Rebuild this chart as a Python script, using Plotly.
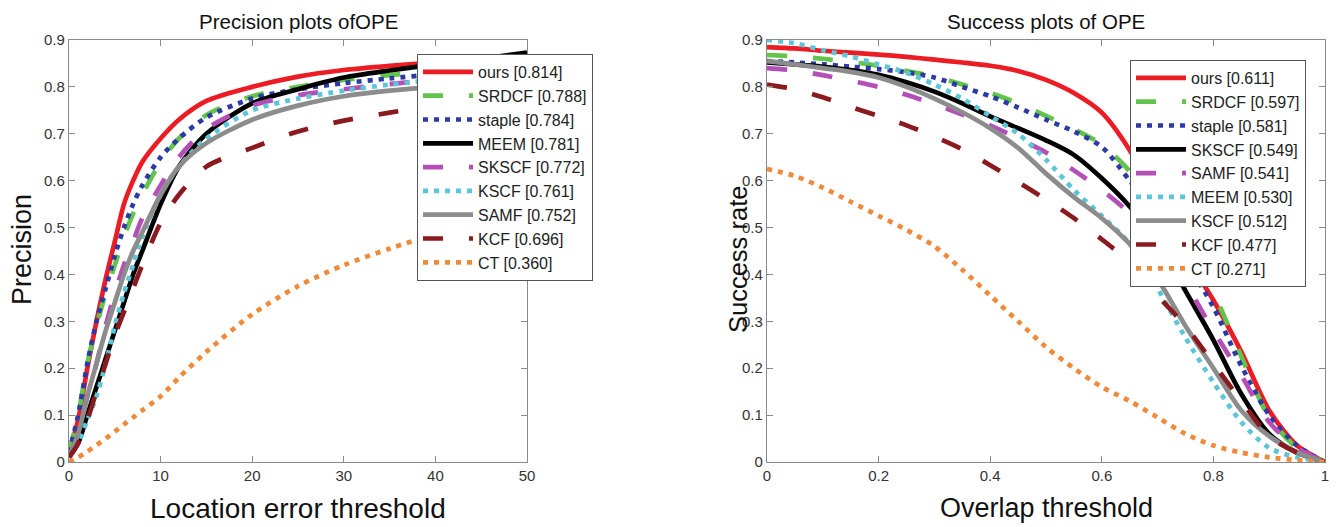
"""Precision / success plots of OPE, two panels side by side."""
import plotly.graph_objects as go

# ---- precision plot data (location error threshold, px) ----
prec_x = [0, 1, 2, 3, 4, 5, 6, 7, 8, 10, 12, 15, 20, 25, 30, 35, 40, 45, 50]
prec_names = ['ours [0.814]', 'SRDCF [0.788]', 'staple [0.784]', 'MEEM [0.781]', 'SKSCF [0.772]',
              'KSCF [0.761]', 'SAMF [0.752]', 'KCF [0.696]', 'CT [0.360]']
ours_p = [0.02, 0.09, 0.20, 0.30, 0.39, 0.47, 0.55, 0.60, 0.64, 0.69, 0.73, 0.77, 0.80, 0.822, 0.836, 0.845, 0.852, 0.857, 0.862]
srdcf_p = [0.02, 0.10, 0.21, 0.29, 0.36, 0.42, 0.48, 0.53, 0.57, 0.64, 0.69, 0.74, 0.78, 0.80, 0.815, 0.825, 0.835, 0.843, 0.85]
staple_p = [0.02, 0.10, 0.21, 0.30, 0.37, 0.44, 0.50, 0.55, 0.59, 0.65, 0.69, 0.735, 0.775, 0.795, 0.808, 0.818, 0.827, 0.835, 0.843]
meem_p = [0.01, 0.04, 0.10, 0.16, 0.22, 0.28, 0.34, 0.40, 0.45, 0.55, 0.63, 0.70, 0.765, 0.795, 0.82, 0.835, 0.848, 0.86, 0.873]
skscf_p = [0.01, 0.06, 0.14, 0.21, 0.29, 0.36, 0.42, 0.47, 0.52, 0.59, 0.65, 0.71, 0.76, 0.782, 0.795, 0.806, 0.815, 0.823, 0.83]
kscf_p = [0.01, 0.04, 0.09, 0.14, 0.21, 0.29, 0.36, 0.42, 0.48, 0.57, 0.63, 0.69, 0.75, 0.775, 0.792, 0.805, 0.815, 0.823, 0.83]
samf_p = [0.01, 0.06, 0.14, 0.21, 0.28, 0.34, 0.40, 0.45, 0.49, 0.57, 0.63, 0.68, 0.73, 0.76, 0.78, 0.792, 0.80, 0.806, 0.812]
kcf_p = [0.01, 0.04, 0.09, 0.15, 0.21, 0.27, 0.32, 0.37, 0.42, 0.51, 0.57, 0.63, 0.67, 0.705, 0.728, 0.745, 0.76, 0.772, 0.785]
ct_p = [0.0, 0.01, 0.022, 0.036, 0.05, 0.065, 0.08, 0.095, 0.11, 0.14, 0.18, 0.235, 0.315, 0.375, 0.42, 0.455, 0.487, 0.52, 0.553]

# ---- success plot data (overlap threshold) ----
succ_x = [0, 0.05, 0.1, 0.15, 0.2, 0.25, 0.3, 0.35, 0.4, 0.45, 0.5, 0.55, 0.6, 0.65, 0.7, 0.75, 0.8, 0.85, 0.9, 0.95, 1.0]
succ_names = ['ours [0.611]', 'SRDCF [0.597]', 'staple [0.581]', 'SKSCF [0.549]', 'SAMF [0.541]',
              'MEEM [0.530]', 'KSCF [0.512]', 'KCF [0.477]', 'CT [0.271]']
ours_s = [0.885, 0.882, 0.877, 0.873, 0.869, 0.864, 0.858, 0.852, 0.845, 0.834, 0.815, 0.787, 0.745, 0.665, 0.555, 0.44, 0.345, 0.235, 0.11, 0.035, 0.0]
srdcf_s = [0.868, 0.865, 0.86, 0.853, 0.845, 0.834, 0.822, 0.805, 0.787, 0.765, 0.738, 0.71, 0.677, 0.62, 0.535, 0.45, 0.36, 0.225, 0.095, 0.03, 0.0]
staple_s = [0.855, 0.852, 0.848, 0.843, 0.838, 0.831, 0.82, 0.80, 0.78, 0.756, 0.73, 0.705, 0.672, 0.60, 0.52, 0.43, 0.33, 0.205, 0.10, 0.035, 0.0]
skscf_s = [0.852, 0.848, 0.843, 0.836, 0.826, 0.81, 0.79, 0.765, 0.737, 0.712, 0.686, 0.655, 0.605, 0.545, 0.47, 0.365, 0.26, 0.145, 0.06, 0.02, 0.0]
samf_s = [0.84, 0.835, 0.825, 0.813, 0.80, 0.783, 0.763, 0.741, 0.718, 0.69, 0.66, 0.622, 0.58, 0.53, 0.46, 0.38, 0.28, 0.185, 0.085, 0.03, 0.0]
meem_s = [0.90, 0.893, 0.878, 0.865, 0.848, 0.83, 0.805, 0.775, 0.738, 0.70, 0.645, 0.58, 0.525, 0.465, 0.37, 0.265, 0.17, 0.085, 0.03, 0.01, 0.0]
kscf_s = [0.855, 0.848, 0.84, 0.832, 0.82, 0.80, 0.775, 0.746, 0.712, 0.67, 0.615, 0.565, 0.52, 0.465, 0.39, 0.29, 0.20, 0.11, 0.055, 0.02, 0.0]
kcf_s = [0.805, 0.795, 0.778, 0.757, 0.738, 0.718, 0.694, 0.667, 0.633, 0.597, 0.56, 0.52, 0.475, 0.425, 0.355, 0.29, 0.21, 0.13, 0.055, 0.02, 0.0]
ct_s = [0.625, 0.61, 0.585, 0.555, 0.525, 0.495, 0.46, 0.41, 0.355, 0.30, 0.245, 0.20, 0.16, 0.13, 0.095, 0.06, 0.035, 0.02, 0.01, 0.004, 0.0]

prec_series = [ours_p, srdcf_p, staple_p, meem_p, skscf_p, kscf_p, samf_p, kcf_p, ct_p]
succ_series = [ours_s, srdcf_s, staple_s, skscf_s, samf_s, meem_s, kscf_s, kcf_s, ct_s]

# style by rank (same for both panels)
DASHED = '20px,26px'
DOTTED = '5px,6px'
styles = [('#ec1c24', 'solid'), ('#62c44a', DASHED), ('#2b3aa6', DOTTED),
          ('#000000', 'solid'), ('#b54fb8', DASHED), ('#5cc6d8', DOTTED),
          ('#8c8c8c', 'solid'), ('#8b1a1f', DASHED), ('#f08a3a', DOTTED)]

FONT = 'Liberation Sans, Arial, sans-serif'
W, H = 1341, 527
OFF = 8  # page body margin shifts the figure div


def fx(px):
    return (px - OFF) / W


def fy(py):
    return 1 - (py - OFF) / H


fig = go.Figure()
for i, (color, dash) in enumerate(styles):
    fig.add_trace(go.Scatter(x=prec_x, y=prec_series[i], name=prec_names[i], mode='lines',
                             line=dict(color=color, dash=dash, width=4.7, shape='spline', smoothing=0.8),
                             xaxis='x', yaxis='y', legend='legend'))
for i, (color, dash) in enumerate(styles):
    fig.add_trace(go.Scatter(x=succ_x, y=succ_series[i], name=succ_names[i], mode='lines',
                             line=dict(color=color, dash=dash, width=4.7, shape='spline', smoothing=0.8),
                             xaxis='x2', yaxis='y2', legend='legend2'))

ax = dict(showgrid=False, zeroline=False, showline=True, mirror='ticks', linecolor='#8a8a8a',
          linewidth=1.2, ticks='inside', ticklen=6, tickcolor='#8a8a8a', automargin=False,
          tickfont=dict(family=FONT, size=15, color='#333333'))
ydom = [fy(462), fy(40)]
fig.update_layout(
    xaxis=dict(ax, domain=[fx(69), fx(527)], range=[0, 50], dtick=10, anchor='y'),
    yaxis=dict(ax, domain=ydom, range=[0, 0.9], dtick=0.1, anchor='x'),
    xaxis2=dict(ax, domain=[fx(767), fx(1325)], range=[0, 1], dtick=0.2, anchor='y2'),
    yaxis2=dict(ax, domain=ydom, range=[0, 0.9], dtick=0.1, anchor='x2'),
)

leg = dict(bgcolor='white', bordercolor='#555555', borderwidth=1, itemwidth=50,
           font=dict(family=FONT, size=16, color='#222222'), xanchor='left', yanchor='top',
           tracegroupgap=0)
fig.update_layout(
    legend=dict(leg, x=fx(417), y=fy(54)),
    legend2=dict(leg, x=fx(1130), y=fy(60)),
)

ann = []
# titles hang from the very top of the figure so their text box is not clipped
ann.append(dict(text='Precision plots ofOPE', x=fx(298), y=1, yanchor='top', font=dict(size=20.5)))
ann.append(dict(text='Success plots of OPE', x=fx(1046), y=1, yanchor='top', font=dict(size=20.5)))
ann.append(dict(text='Location error threshold', x=fx(298), y=fy(508), font=dict(size=28)))
ann.append(dict(text='Overlap threshold', x=fx(1046), y=fy(508), font=dict(size=27)))
ann.append(dict(text='Precision', x=fx(22), y=fy(250), textangle=-90, font=dict(size=27)))
ann.append(dict(text='Success rate', x=fx(738), y=fy(260), textangle=-90, font=dict(size=25.5)))
for a in ann:
    a.setdefault('yanchor', 'middle')
    a.update(xref='paper', yref='paper', showarrow=False, xanchor='center')
    a['font'].update(family=FONT, color='#111111')

fig.update_layout(annotations=ann, width=W, height=H, margin=dict(l=0, r=0, t=0, b=0),
                  paper_bgcolor='white', plot_bgcolor='white', showlegend=True)

fig.write_html("out.html")
